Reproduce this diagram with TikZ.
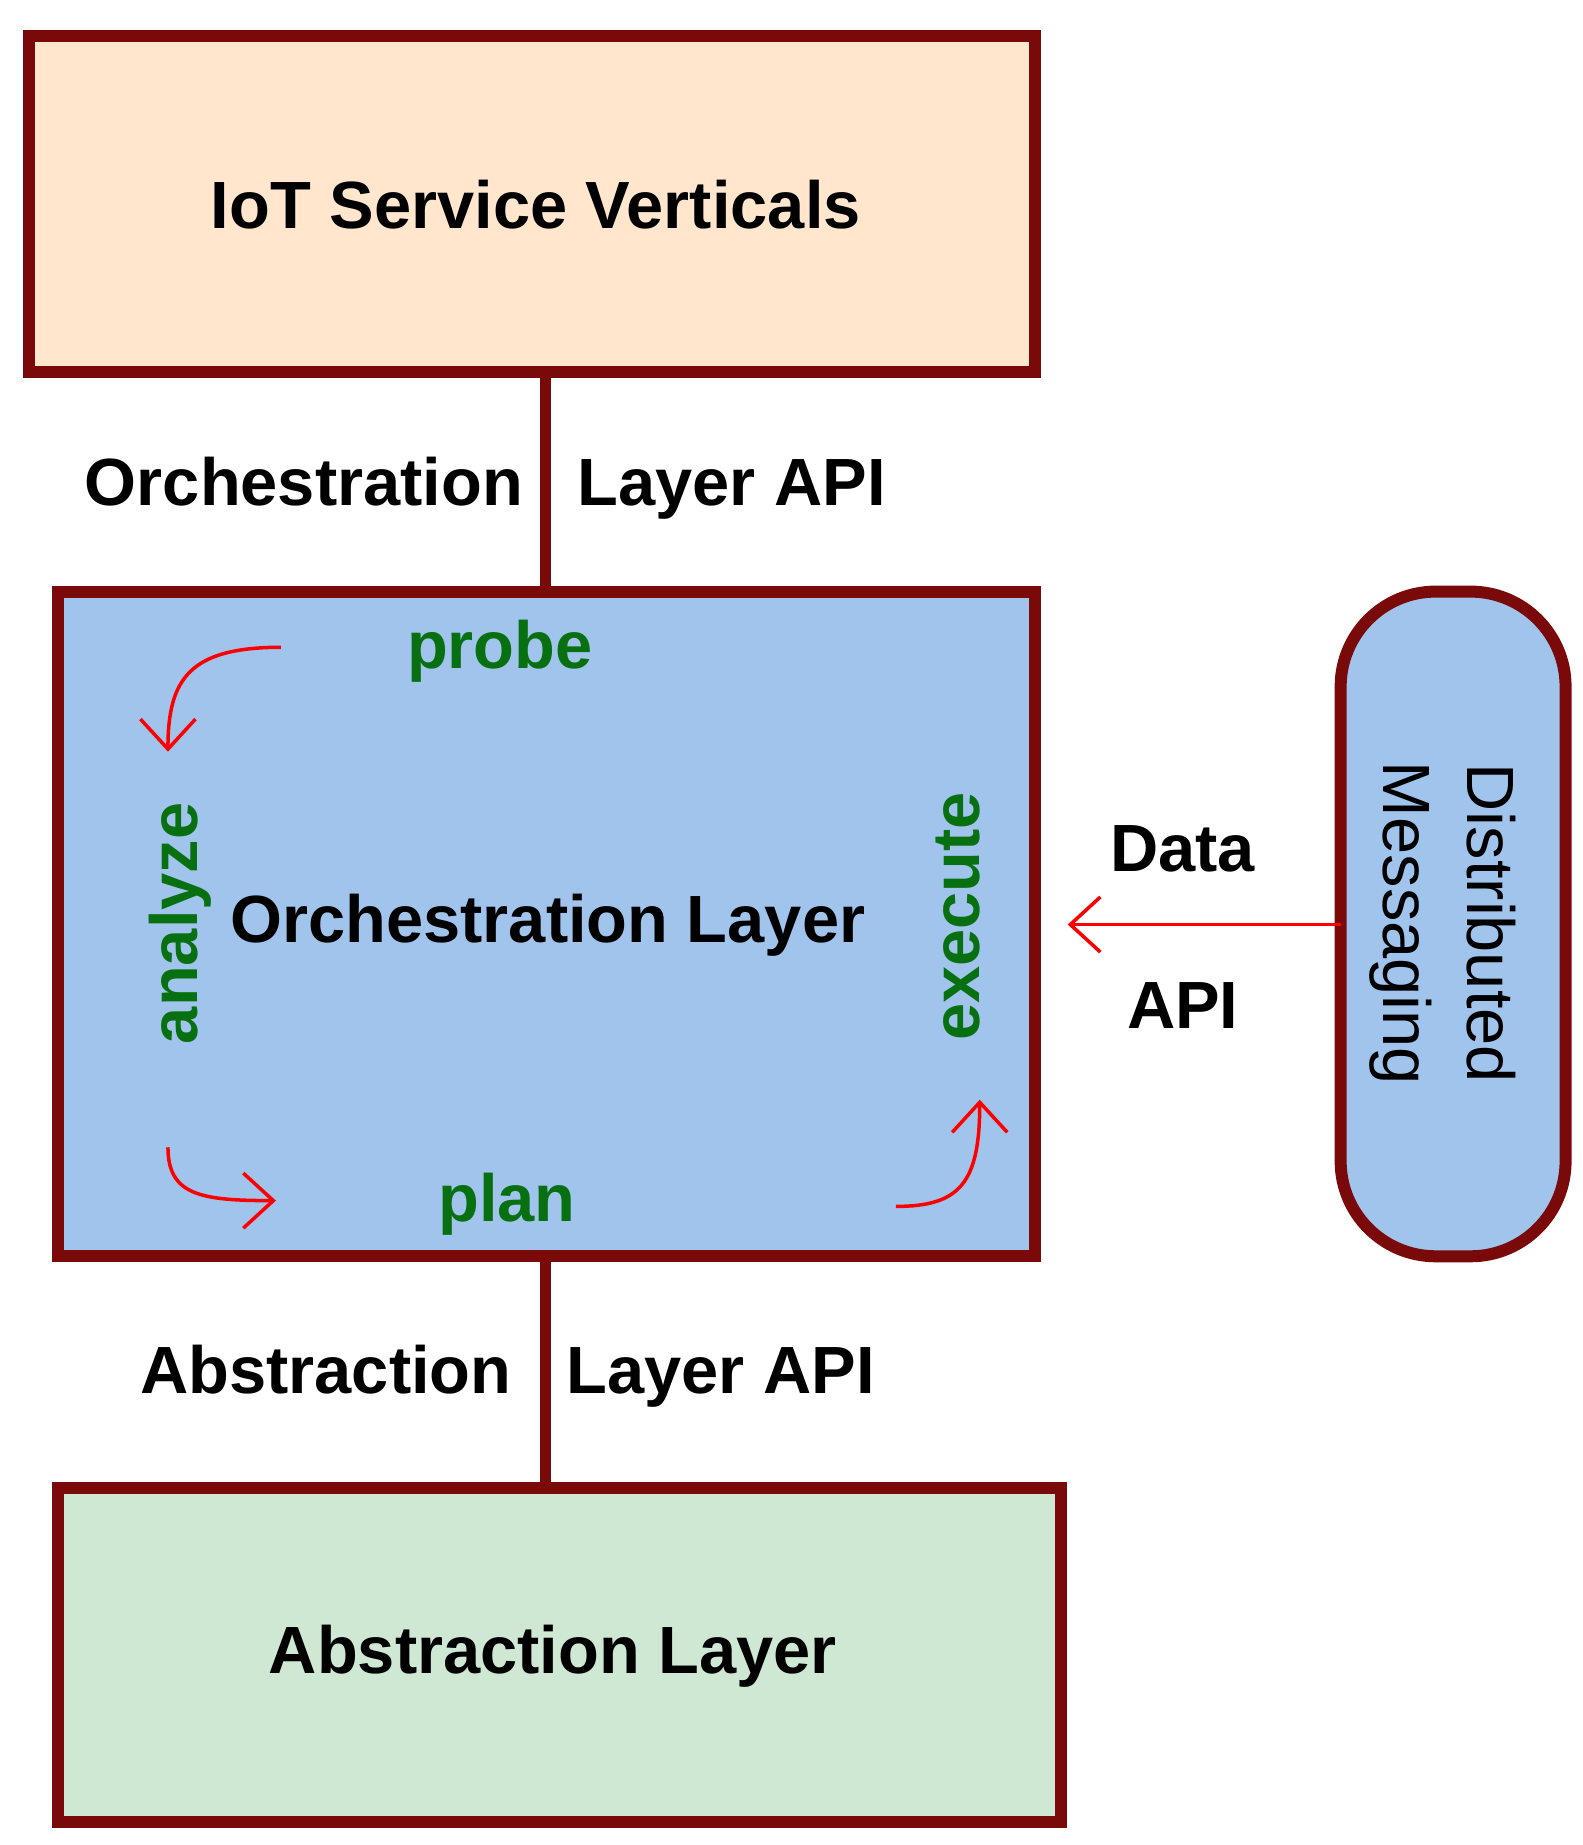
\documentclass[tikz,border=0pt]{standalone}
\usepackage{fontspec}
\usetikzlibrary{arrows.meta}
\setmainfont{Liberation Sans}
\begin{document}
\begin{tikzpicture}[x=0.01cm,y=-0.0116cm,
  box/.style={draw=dred,line width=0.12cm,inner sep=0},
  t/.style={font=\fontsize{19}{21}\selectfont\bfseries},
  g/.style={t,text=dgreen},
  rarr/.style={draw=red,line width=0.035cm,-{Straight Barb[length=0.3cm,width=0.55cm,line width=0.035cm]}},
  conn/.style={draw=dred,line width=0.11cm}]
\definecolor{dred}{HTML}{7A0A0A}
\definecolor{dgreen}{HTML}{087010}
\useasboundingbox (0,0) rectangle (1583,1590.5);
\path[box,fill={rgb,255:red,255;green,230;blue,204}] (29,31) rectangle (1035,321);
\path[box,fill={rgb,255:red,160;green,196;blue,236}] (58,510) rectangle (1035,1083);
\path[box,fill={rgb,255:red,207;green,232;blue,212}] (58,1283) rectangle (1061,1571);
\path[box,fill={rgb,255:red,160;green,196;blue,236},rounded corners=0.95cm] (1341,510) rectangle (1566,1083);
\node[t] (iot) at (536,176) {IoT Service Verticals};
\node[t] (orch) at (548,798) {Orchestration Layer};
\node[t] (abs) at (553,1428) {Abstraction Layer};
\coordinate (a1) at (546,321); \coordinate (a2) at (546,510);
\coordinate (b1) at (546,1083); \coordinate (b2) at (546,1283);
\draw[conn] (a1) -- (a2);
\draw[conn] (b1) -- (b2);
\node[t,anchor=base] (l1) at (304,436) {Orchestration};
\node[t,anchor=base] (l2) at (732,436) {Layer API};
\node[t,anchor=base] (l3) at (326,1201) {Abstraction};
\node[t,anchor=base] (l4) at (721,1201) {Layer API};
\node[g] (probe) at (500,561) {probe};
\node[g,rotate=90] (an) at (180,796) {analyze};
\node[g] (plan) at (507,1038) {plan};
\node[g,rotate=90] (ex) at (958,790) {execute};
\node[t] (data) at (1183,732) {Data};
\node[t] (api) at (1183,867) {API};
\node[font=\fontsize{19}{24}\selectfont,rotate=-90,align=center] (dm) at (1443,796) {Distributed\\Messaging};
\coordinate (ps) at (1341,797); \coordinate (pe) at (1068,797);
\draw[rarr] (ps) -- (pe);
\draw[rarr] (281,558) .. controls (190,558) and (168,585) .. (168,648);
\draw[rarr] (168,989) .. controls (168,1030) and (200,1035) .. (276,1035);
\draw[rarr] (896,1040) .. controls (960,1040) and (980,1020) .. (980,948);
\end{tikzpicture}
\end{document}
